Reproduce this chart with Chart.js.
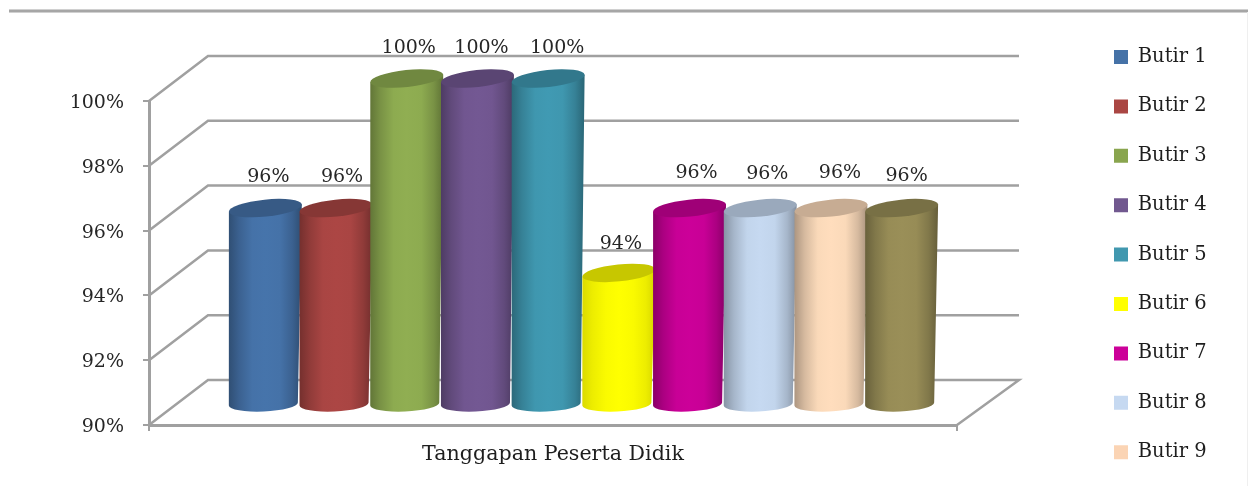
<!DOCTYPE html>
<html><head><meta charset="utf-8">
<style>html,body{margin:0;padding:0;background:#fff;overflow:hidden}#w{width:1248px;height:486px}canvas{filter:blur(0.45px)}</style>
<script src="https://cdn.jsdelivr.net/npm/chart.js@4/dist/chart.umd.min.js"></script>
</head><body><div id="w"><canvas id="c" width="1248" height="486"></canvas></div>
<script>
const categories = ['Tanggapan Peserta Didik'];
const seriesNames = ['Butir 1','Butir 2','Butir 3','Butir 4','Butir 5','Butir 6','Butir 7','Butir 8','Butir 9','Butir 10'];
const seriesValues = [96,96,100,100,100,94,96,96,96,96];
const seriesColors = ['#4674AB','#AC4644','#90AE52','#735893','#409AB3','#FFFF00','#CC0099','#C6D9F1','#FFDDBD','#9A8F58'];
const legendColors = ['#4572A7','#AA4643','#89A54E','#71588F','#4198AF','#FFFF00','#CC0099','#C6D9F1','#FBD4B4','#948A54'];
const labelNudgeX = [4,7,3,5,10,3,8,8,10,6];
const labelNudgeY = [0,0,1,1,1,2,-4,-3,-4,-1];

const FONT = '"DejaVu Serif"';
const FS = 19.5;
const GRID = '#a0a0a0';
const DX = 59, DY = 45;      // depth of the 3D box
const shade = (hex, k) => {
  const n = parseInt(hex.slice(1), 16);
  const c = s => Math.round(((n >> s) & 255) * k);
  return `rgb(${c(16)},${c(8)},${c(0)})`;
};

const frame3d = {
  id: 'frame3d',
  beforeLayout(chart) {
    const l = chart.legend;
    if (!l._fit0) {
      l._fit0 = l.fit;
      l.fit = function () { this.maxHeight = 600; this._fit0(); this.width = 291; this.height = 486; };
    }
  },
  afterLayout(chart) {
    const l = chart.legend;
    const pad = l.options.labels.padding;
    l.left = 1114 - pad; l.right = 1248;
    l.top = 57 - FS / 2 - pad; l.bottom = 600;
  },
  beforeDraw(chart) {
    const c = chart.ctx;
    c.save();
    c.fillStyle = '#a6a6a6'; c.fillRect(9, 10, 1239, 2);
    c.fillStyle = '#d0d0d0'; c.fillRect(9, 9, 1239, 1); c.fillRect(9, 12, 1239, 1);
    c.fillStyle = '#efefef'; c.fillRect(1247, 12, 1, 474);
    c.restore();
  },
  beforeDatasetsDraw(chart) {
    const c = chart.ctx, a = chart.chartArea, y = chart.scales.y;
    c.save();
    c.strokeStyle = GRID; c.lineWidth = 2.5; c.lineJoin = 'miter';
    y.ticks.forEach(t => {
      const py = y.getPixelForValue(t.value);
      c.beginPath();
      c.moveTo(a.left, py);
      c.lineTo(a.left + DX, py - DY);
      c.lineTo(a.right + DX + 3, py - DY);
      if (t.value === y.min) { c.lineTo(a.right, py); }
      c.stroke();
    });
    c.restore();
  },
  beforeDatasetDraw() { return false; },
  afterDatasetsDraw(chart) {
    const c = chart.ctx, y = chart.scales.y;
    chart.data.datasets.forEach((ds, i) => {
      const el = chart.getDatasetMeta(i).data[0];
      drawCylinder(c, el.x, el.y, y.getPixelForValue(y.min), el.width, seriesColors[i]);
    });
    c.save();
    c.font = '19px ' + FONT; c.fillStyle = '#262626';
    c.textAlign = 'center'; c.textBaseline = 'middle';
    chart.data.datasets.forEach((ds, i) => {
      const el = chart.getDatasetMeta(i).data[0];
      c.fillText(ds.data[0] + '%', el.x + DX / 2 + labelNudgeX[i], el.y - DY / 2 - 31 + labelNudgeY[i]);
    });
    c.restore();
  }
};

function drawCylinder(c, x, top, base, width, color) {
  const cx = x + DX / 2 + 1, topY = top - DY / 2, baseY = base - DY / 2;
  const rT = width / 2 + 1.3, rB = width / 2 - 0.8;
  const tilt = -5.9 * Math.PI / 180, tiltB = -2.5 * Math.PI / 180;
  const ryT = 8.5, ryB = 7.5, cxB = cx - 2, yB = baseY + 1.5;
  c.save();
  const tlx = cx - rT * Math.cos(tilt), tly = topY - rT * Math.sin(tilt);
  const trx = cx + rT * Math.cos(tilt), try_ = topY + rT * Math.sin(tilt);
  const blx = cxB - rB * Math.cos(tiltB), bly = yB - rB * Math.sin(tiltB);
  const g = c.createLinearGradient(tlx, 0, trx, 0);
  const edge = color === '#FFFF00' ? 0.86 : 0.68;
  g.addColorStop(0, shade(color, edge));
  g.addColorStop(0.14, shade(color, (edge + 1) / 2));
  g.addColorStop(0.32, shade(color, 0.98));
  g.addColorStop(0.5, shade(color, 1));
  g.addColorStop(0.7, shade(color, 0.98));
  g.addColorStop(0.87, shade(color, (edge + 1) / 2));
  g.addColorStop(1, shade(color, edge - 0.02));
  c.fillStyle = g;
  c.beginPath();
  c.moveTo(tlx, tly);
  c.lineTo(blx, bly);
  c.ellipse(cxB, yB, rB, ryB, tiltB, Math.PI, 0, true);
  c.lineTo(trx, try_);
  c.closePath();
  c.fill();
  c.fillStyle = shade(color, 0.78);
  c.beginPath();
  c.ellipse(cx, topY, rT, ryT, tilt, 0, Math.PI * 2);
  c.fill();
  c.restore();
}

Chart.defaults.font.family = FONT;
new Chart(document.getElementById('c'), {
  type: 'bar',
  data: {
    labels: categories,
    datasets: seriesNames.map((name, i) => ({
      label: name,
      data: [seriesValues[i]],
      backgroundColor: legendColors[i],
      borderWidth: 0
    }))
  },
  plugins: [frame3d],
  options: {
    responsive: false,
    animation: false,
    categoryPercentage: 0.875,
    barPercentage: 1,
    layout: { padding: { top: 101, left: 0, right: 0, bottom: 0 } },
    plugins: {
      tooltip: { enabled: false },
      title: { display: false },
      legend: {
        position: 'right', align: 'start',
        labels: {
          boxWidth: 14, boxHeight: 14, padding: 49.4 - FS,
          color: '#1e1e1e', font: { size: FS, family: FONT },
          filter: item => item.datasetIndex < 9
        }
      }
    },
    scales: {
      x: {
        afterFit: s => { s.height = 61; },
        grid: { display: true, drawOnChartArea: false, drawTicks: true, tickLength: 6, color: GRID, lineWidth: 2 },
        border: { display: true, color: GRID, width: 3 },
        ticks: { color: '#1e1e1e', padding: 11, font: { size: 20.6, family: FONT }, maxRotation: 0 }
      },
      y: {
        min: 90, max: 100,
        afterFit: s => { s.width = 149; },
        grid: { display: true, drawOnChartArea: false, drawTicks: true, tickLength: 6, color: GRID, lineWidth: 2 },
        border: { display: true, color: GRID, width: 3 },
        ticks: { stepSize: 2, color: '#262626', padding: 19, labelOffset: 2, font: { size: 19, family: FONT }, callback: v => v + '%' }
      }
    }
  }
});
</script></body></html>
